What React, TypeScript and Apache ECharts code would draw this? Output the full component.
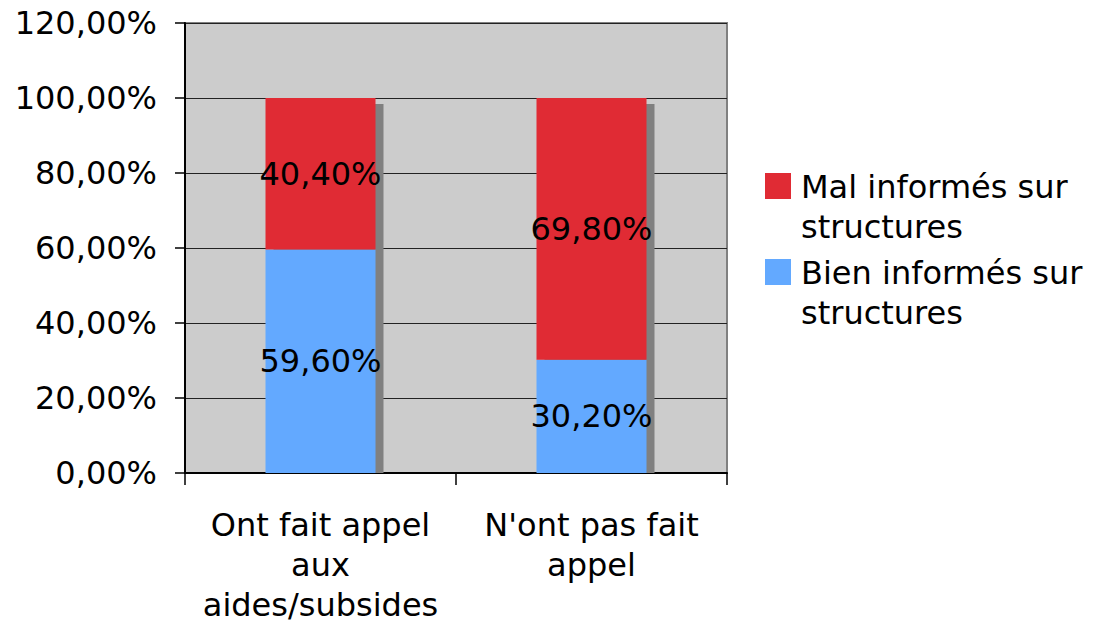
import React, { useEffect, useRef } from "react";
import * as echarts from "echarts";

const categories = ["Ont fait appel\naux\naides/subsides", "N'ont pas fait\nappel"];
const bienValues = [59.6, 30.2];
const malValues = [40.4, 69.8];
const seriesNames = ["Bien informés sur\nstructures", "Mal informés sur\nstructures"];
const legendOrder = [1, 0];
const yTicks = { min: 0, max: 120, interval: 20 };

const RED = "#e02b34";
const BLUE = "#63a9ff";
const FONT = "DejaVu Sans";

const fmt = (v: number) => v.toFixed(2).replace(".", ",") + "%";

export default function App() {
  const ref = useRef<HTMLDivElement>(null);
  useEffect(() => {
    if (!ref.current) return;
    const chart = echarts.init(ref.current, undefined, { renderer: "svg" });
    const totals = bienValues.map((b, i) => b + malValues[i]);
    const colors = [BLUE, RED];
    const legendGraphics: any[] = [];
    legendOrder.forEach((si, k) => {
      const y0 = 173 + k * 86;
      legendGraphics.push({
        type: "rect",
        shape: { x: 765, y: y0, width: 26, height: 26 },
        style: { fill: colors[si] },
      });
      legendGraphics.push({
        type: "text",
        x: 801,
        y: y0 - 6,
        style: {
          text: seriesNames[si],
          font: `32px "${FONT}"`,
          fill: "#000",
          lineHeight: 40,
          verticalAlign: "top",
          align: "left",
        },
      });
    });
    const labelStyle = {
      show: true,
      position: "inside",
      color: "#000",
      fontSize: 32,
      fontFamily: FONT,
      formatter: (p: any) => fmt(p.value),
    };
    chart.setOption({
      animation: false,
      textStyle: { fontFamily: FONT },
      grid: {
        left: 185,
        right: 368,
        top: 23,
        bottom: 152,
        show: true,
        backgroundColor: "#cccccc",
        borderColor: "#808080",
        borderWidth: 2,
      },
      xAxis: {
        type: "category",
        data: categories,
        axisLine: { lineStyle: { color: "#000", width: 2 } },
        axisTick: { show: true, length: 12, lineStyle: { color: "#000", width: 1.5 } },
        axisLabel: {
          color: "#000",
          fontSize: 32,
          fontFamily: FONT,
          lineHeight: 40,
          margin: 32,
          interval: 0,
        },
      },
      yAxis: {
        type: "value",
        min: yTicks.min,
        max: yTicks.max,
        interval: yTicks.interval,
        axisLine: { show: true, lineStyle: { color: "#000", width: 2 } },
        axisTick: { show: true, length: 10, lineStyle: { color: "#000", width: 1.5 } },
        axisLabel: {
          color: "#000",
          fontSize: 32,
          fontFamily: FONT,
          margin: 28,
          formatter: (v: number) => fmt(v),
        },
        splitLine: { show: true, lineStyle: { color: "#222", width: 1.2 } },
      },
      series: [
        {
          type: "custom",
          z: 1,
          silent: true,
          data: totals.map((t, i) => [i, t]),
          renderItem: (params: any, api: any) => {
            const x = api.value(0);
            const top = api.coord([x, api.value(1)]);
            const bottom = api.coord([x, 0]);
            return {
              type: "rect",
              shape: {
                x: top[0] - 54 + 7,
                y: top[1] + 6,
                width: 110,
                height: bottom[1] - top[1] - 6,
              },
              style: { fill: "#808080" },
            };
          },
        },
        {
          name: seriesNames[0],
          type: "bar",
          stack: "total",
          z: 2,
          barWidth: 110,
          data: bienValues,
          itemStyle: { color: BLUE },
          label: labelStyle,
        },
        {
          name: seriesNames[1],
          type: "bar",
          stack: "total",
          z: 2,
          barWidth: 110,
          data: malValues,
          itemStyle: { color: RED },
          label: labelStyle,
        },
      ],
      graphic: legendGraphics,
    });
    return () => chart.dispose();
  }, []);
  return (
    <div
      ref={ref}
      style={{ position: "fixed", left: 0, top: 0, width: 1095, height: 625, background: "#fff" }}
    />
  );
}
